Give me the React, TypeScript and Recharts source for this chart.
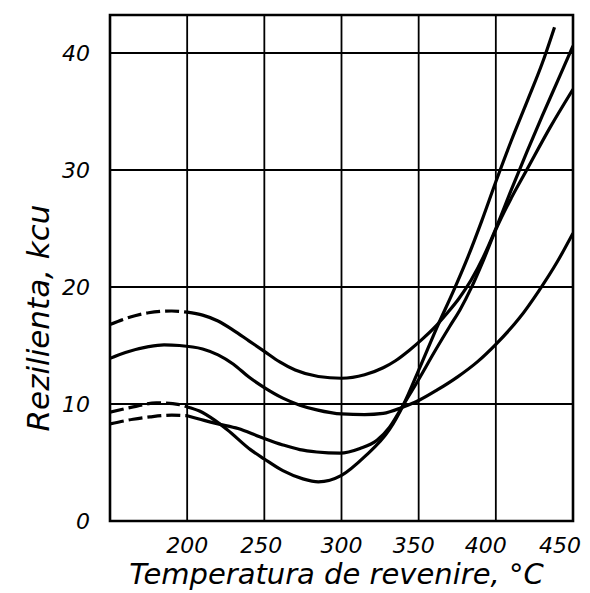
import React from 'react';
import { LineChart, Line, XAxis, YAxis, CartesianGrid, ReferenceArea } from 'recharts';

// Temperature of tempering (°C) and resilience values for each curve
const xA = [150, 160, 175, 190, 200, 210, 220, 230, 240, 250, 260, 270, 285, 300, 315, 327, 335, 344, 352, 360, 368, 376, 384, 392, 400, 410, 420, 430, 440, 450];
const yA = [16.8, 17.3, 17.8, 17.95, 17.85, 17.6, 17.1, 16.3, 15.4, 14.5, 13.6, 12.9, 12.35, 12.2, 12.5, 13.1, 13.7, 14.6, 15.5, 16.5, 17.7, 19.0, 20.6, 22.6, 25.0, 28.3, 31.5, 34.6, 37.6, 40.6];

const xB = [150, 160, 175, 185, 195, 210, 220, 230, 240, 250, 262, 273, 284, 300, 315, 327, 340, 350, 362, 375, 388, 400, 415, 428, 440, 450];
const yB = [13.9, 14.4, 14.9, 15.05, 15.0, 14.7, 14.2, 13.4, 12.3, 11.4, 10.5, 9.9, 9.5, 9.15, 9.1, 9.2, 9.75, 10.3, 11.2, 12.3, 13.6, 15.1, 17.3, 19.7, 22.2, 24.6];

const xC = [150, 165, 180, 195, 200, 208, 218, 226, 241, 250, 262, 275, 285, 300, 315, 331, 340, 351, 362, 373, 382, 391, 400, 410, 421, 430, 438];
const yC = [9.3, 9.75, 10.1, 9.95, 9.75, 9.4, 8.6, 7.8, 6.1, 5.3, 4.3, 3.6, 3.35, 3.9, 5.5, 7.8, 9.9, 13.2, 16.6, 19.8, 22.6, 25.7, 29.0, 32.5, 36.1, 39.1, 42.2];

const xD = [150, 165, 176, 190, 200, 211, 220, 233, 247, 262, 273, 284, 299, 312, 323, 331, 339, 350, 360, 370, 377, 384, 392, 400, 410, 420, 435, 450];
const yD = [8.3, 8.7, 8.9, 9.05, 9.0, 8.6, 8.3, 7.9, 7.2, 6.5, 6.1, 5.9, 5.8, 6.2, 6.9, 8.0, 9.7, 12.1, 14.4, 16.6, 18.1, 19.9, 22.3, 24.9, 27.6, 30.0, 33.6, 36.9];

const xTicks = [200, 250, 300, 350, 400, 450];
const yTicks = [0, 10, 20, 30, 40];
const DASH_END = 200;

const X_TITLE = 'Temperatura de revenire, °C';
const Y_TITLE = 'Rezilienta, kcu';

const FONT = '"DejaVu Sans", sans-serif';

const pts = (xs: number[], ys: number[]) => xs.map((x, i) => ({ x, y: ys[i] }));
const dashPart = (xs: number[], ys: number[]) => pts(xs, ys).filter((p) => p.x <= DASH_END);
const solidPart = (xs: number[], ys: number[]) => pts(xs, ys).filter((p) => p.x >= DASH_END);

const X_TICK_SHIFT: Record<number, number> = { 200: 0, 250: -3, 300: 0, 350: -5, 400: -10, 450: -10 };

const XTick = (props: any) => {
  const { x, y, payload } = props;
  const dx = X_TICK_SHIFT[payload.value] ?? 0;
  return (
    <text x={x + dx} y={y} dy="0.71em" textAnchor="middle" fontSize={22} fontStyle="italic" fontFamily={FONT} fill="#000">
      {payload.value}
    </text>
  );
};

const YTitle = (props: any) => {
  const vb = props.viewBox;
  const cx = vb.x - 12;
  const cy = vb.y + vb.height / 2 + 50;
  return (
    <text x={cx} y={cy} transform={`rotate(-90, ${cx}, ${cy})`} textAnchor="middle" dominantBaseline="central" fontSize={31} fontStyle="italic" fontFamily={FONT} fill="#000">
      {Y_TITLE}
    </text>
  );
};

const XTitle = (props: any) => {
  const vb = props.viewBox;
  const cx = vb.x + vb.width / 2 - 5;
  const cy = vb.y + 63;
  return (
    <text x={cx} y={cy} textAnchor="middle" fontSize={29} fontStyle="italic" fontFamily={FONT} fill="#000">
      {X_TITLE}
    </text>
  );
};

const lineProps = {
  dataKey: 'y',
  stroke: '#000',
  strokeWidth: 3.2,
  dot: false,
  activeDot: false,
  isAnimationActive: false,
  type: 'monotone' as const,
};

export default function App() {
  return (
    <div style={{ background: '#fff' }}>
      <LineChart width={574} height={585} margin={{ top: 7, right: 9, bottom: 0, left: 42 }}>
        <CartesianGrid stroke="#000" strokeWidth={1.8} horizontalValues={yTicks} verticalValues={xTicks} />
        <XAxis
          type="number"
          dataKey="x"
          domain={[150, 450]}
          ticks={xTicks}
          allowDataOverflow
          height={72}
          tickSize={0}
          tickMargin={16}
          axisLine={false}
          tick={<XTick />}
          label={<XTitle />}
        />
        <YAxis
          type="number"
          domain={[0, 43.25]}
          ticks={yTicks}
          allowDataOverflow
          width={60}
          tickSize={0}
          tickMargin={20}
          axisLine={false}
          tick={{ fontSize: 22, fontStyle: 'italic', fill: '#000', fontFamily: FONT }}
          label={<YTitle />}
        />
        <ReferenceArea x1={150} x2={450} y1={0} y2={43.25} fill="none" stroke="#000" strokeWidth={2.6} fillOpacity={0} />
        <Line {...lineProps} data={dashPart(xA, yA)} strokeDasharray="14 5" />
        <Line {...lineProps} data={solidPart(xA, yA)} />
        <Line {...lineProps} data={pts(xB, yB)} />
        <Line {...lineProps} data={dashPart(xC, yC)} strokeDasharray="14 5" />
        <Line {...lineProps} data={solidPart(xC, yC)} />
        <Line {...lineProps} data={dashPart(xD, yD)} strokeDasharray="14 5" />
        <Line {...lineProps} data={solidPart(xD, yD)} />
      </LineChart>
    </div>
  );
}
